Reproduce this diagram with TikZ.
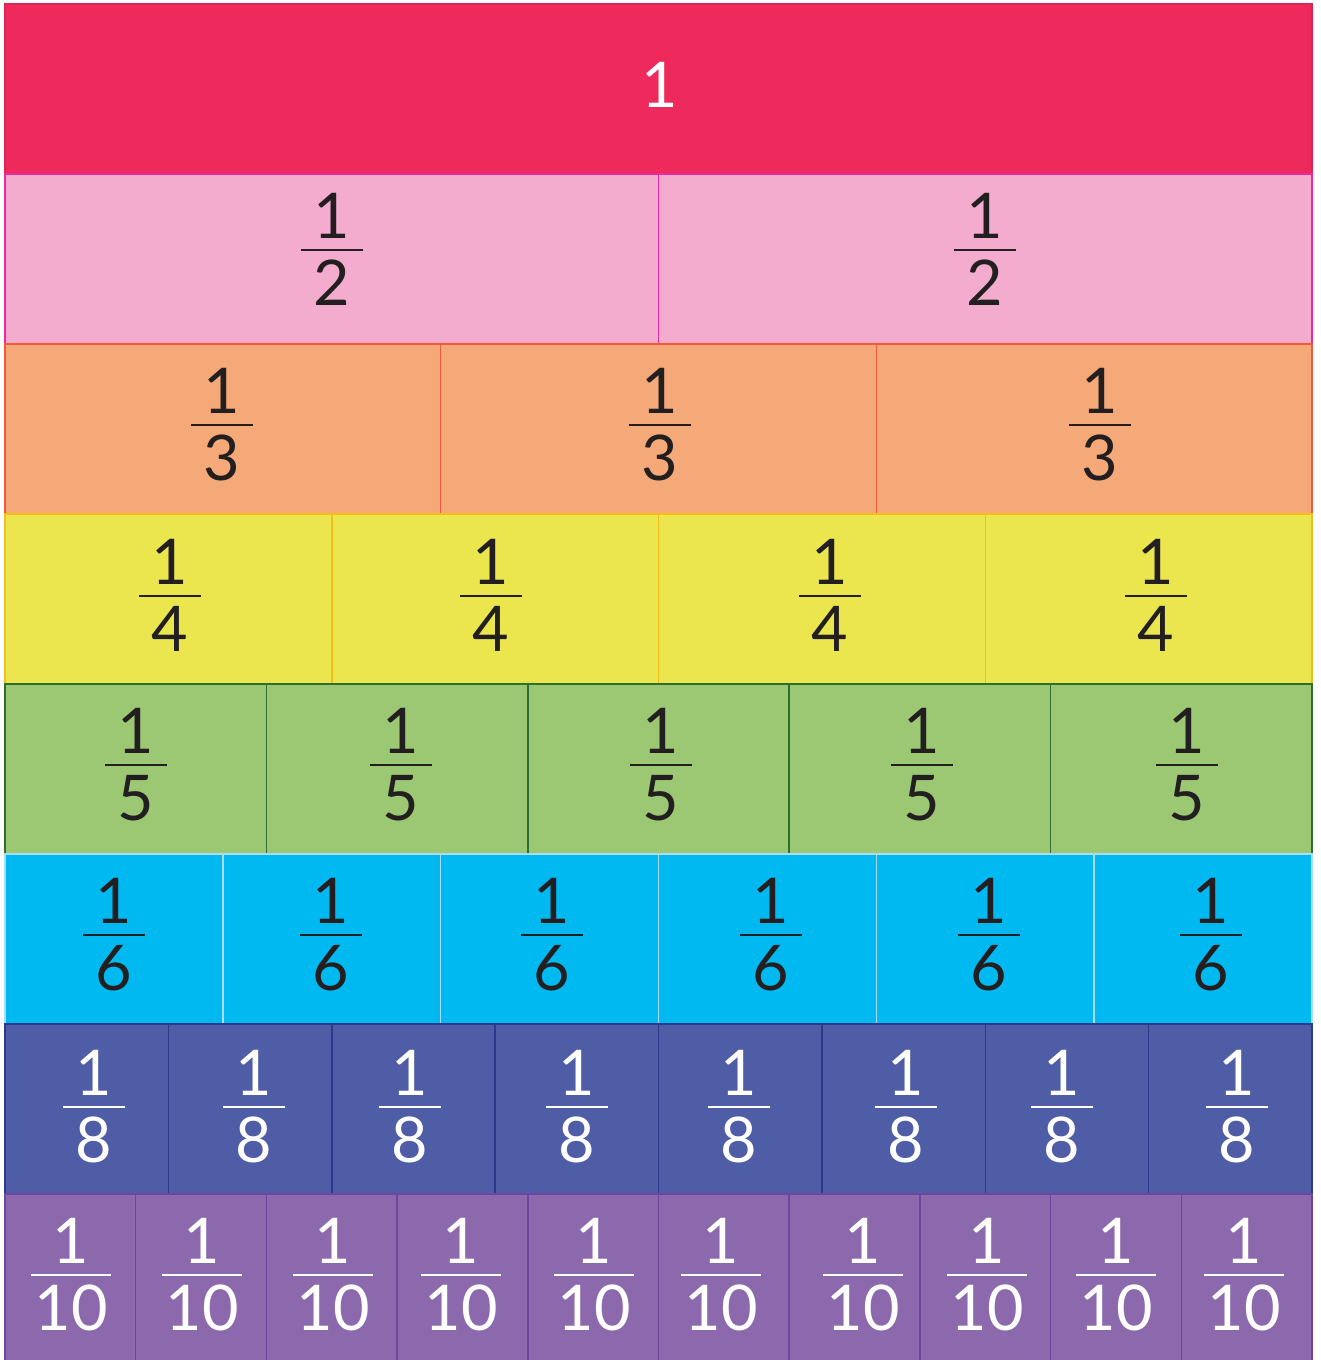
\documentclass[tikz,border=0pt]{standalone}
\usepackage{fontspec}
\setmainfont{Lato}
\definecolor{rRed}{HTML}{EE295B}
\definecolor{bRed}{HTML}{DC2550}
\definecolor{rPink}{HTML}{F3ACCE}
\definecolor{bPink}{HTML}{EC2A9E}
\definecolor{rOrange}{HTML}{F6A978}
\definecolor{bOrange}{HTML}{F05A3A}
\definecolor{rYellow}{HTML}{EBE64E}
\definecolor{bYellow}{HTML}{F5BD1C}
\definecolor{rGreen}{HTML}{9CC874}
\definecolor{bGreen}{HTML}{2E6E35}
\definecolor{rCyan}{HTML}{00B9F1}
\definecolor{bCyan}{HTML}{A8DDF5}
\definecolor{rBlue}{HTML}{4F5DA6}
\definecolor{bBlue}{HTML}{2B3A8A}
\definecolor{rPurple}{HTML}{8C69AC}
\definecolor{bPurple}{HTML}{6E46A0}
\definecolor{ink}{HTML}{231F20}
\newcommand\fracrow[8]{% #1 top y, #2 n, #3 fill, #4 border, #5 text colour, #6 bar y, #7 half bar width, #8 label x list
  \pgfmathsetmacro\cw{1307/#2}
  \foreach \i in {1,...,#2}{
    \path[cell,fill=#3,draw=#4] ({5+(\i-1)*\cw},#1) rectangle ({5+\i*\cw},{#1+170});
  }
  \foreach \lx [count=\k] in {#8}{
    \node[digit,text=#5,anchor=base] (num#2-\k) at (\lx,{#6-12}) {1};
    \draw[fbar,draw=#5] ({\lx-#7},#6) -- ({\lx+#7},#6);
    \node[digit,text=#5,anchor=north] (den#2-\k) at (\lx,{#6+10}) {#2};
  }
}
\begin{document}
\begin{tikzpicture}[x=1pt,y=-1pt,
  cell/.style={line width=1.5pt},
  digit/.style={inner sep=0pt,outer sep=0pt,font=\fontsize{63}{63}\selectfont},
  fbar/.style={line width=2.6pt}]
\useasboundingbox[fill=white] (0,0) rectangle (1321,1360);
% whole
\path[cell,fill=rRed,draw=bRed] (5,4) rectangle (1312,174);
\node[digit,text=white] (one) at (660,85) {1};
\fracrow{174}{2}{rPink}{bPink}{ink}{250}{31}{332,985}
\fracrow{344}{3}{rOrange}{bOrange}{ink}{425}{31}{222,660,1100}
\fracrow{514}{4}{rYellow}{bYellow}{ink}{596}{31}{170,491,830,1156}
\fracrow{684}{5}{rGreen}{bGreen}{ink}{765}{31}{136,401,661,922,1187}
\fracrow{854}{6}{rCyan}{bCyan}{ink}{935}{31}{114,331,552,771,989,1211}
\fracrow{1024}{8}{rBlue}{bBlue}{white}{1107}{31}{94,254,410,577,739,906,1062,1237}
\fracrow{1194}{10}{rPurple}{bPurple}{white}{1275}{40}{71,202,333,461,594,721,863,987,1116,1244}
\end{tikzpicture}
\end{document}
